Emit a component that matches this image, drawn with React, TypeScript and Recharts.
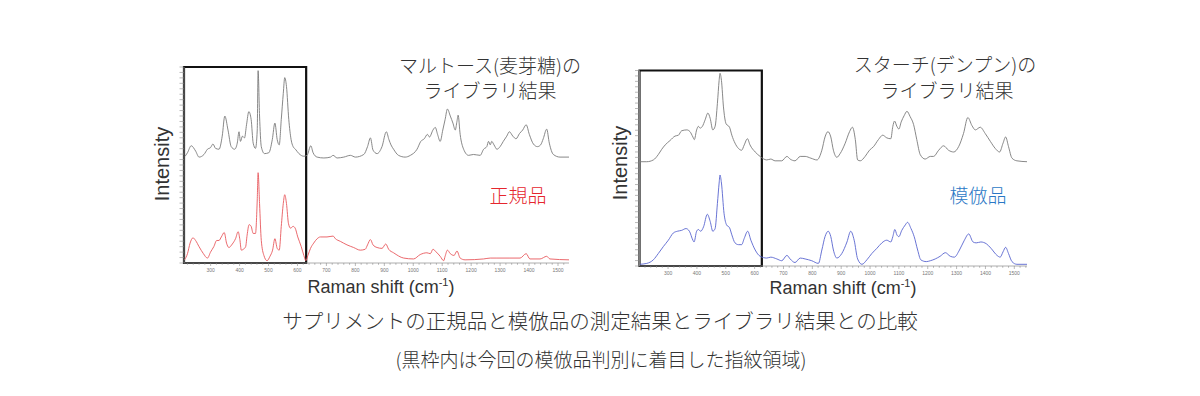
import React from "react";
import { LineChart, Line, XAxis, YAxis, ReferenceArea } from "recharts";

// ---- Left panel: maltose library (grey) and genuine product (red)
const maltoseLibX = [212,220,233,248,260,277,289,300,308,317,329,340,349,360,371,383,392,398,403,410,417,424,432,440,447,455,461,464,469,475,486,501,513,522,530,537,544,551,556,562,570,578,585,593,605,622,633,646,654,668,691,714,723,737,760,783,800,829,842,852,861,875,892,907,916,923,932,949,972,990,1013,1026,1038,1049,1056,1068,1076,1084,1093,1102,1110,1118,1128,1137,1145,1151,1155,1162,1174,1191,1208,1231,1243,1254,1260,1266,1271,1279,1289,1300,1311,1323,1332,1344,1355,1367,1378,1390,1401,1415,1429,1440,1449,1461,1470,1484,1507,1538];
const maltoseLibY = [2,6,14,8,1,4,10,12,16,11,10,25,48,32,13,10,17,30,19,25,23,38,53,44,17,11,32,100,48,13,5,6,21,40,21,15,44,74,92,82,44,21,13,10,5,2,3,14,6,1,0,1,3,0,1,3,1,4,13,23,9,5,13,30,21,15,10,3,1,3,10,19,22,27,24,32,35,27,19,32,44,56,48,40,32,42,49,27,10,3,4,3,10,13,19,15,19,15,10,13,19,25,30,25,22,28,32,38,27,16,13,15,22,33,17,4,1,1];

const genuineX = [210,220,229,239,248,260,275,289,300,311,321,329,337,347,355,363,375,386,395,401,406,413,421,426,433,440,447,455,461,464,469,475,484,495,505,514,522,530,537,544,551,556,562,569,576,585,592,601,613,622,629,636,645,656,668,679,702,723,731,748,771,794,817,834,842,852,861,875,892,905,915,932,967,1001,1024,1047,1059,1068,1079,1093,1105,1110,1118,1128,1141,1151,1162,1179,1243,1266,1289,1334,1369,1390,1403,1438,1461,1472,1538];
const genuineY = [1,8,20,26,23,16,8,3,10,16,23,23,27,32,20,15,19,25,33,24,12,13,16,29,41,39,31,31,69,100,65,23,6,0,5,12,25,14,12,39,65,75,65,42,37,39,37,27,16,6,0,6,14,20,25,27,27,28,25,22,18,15,12,13,18,24,18,15,14,19,13,9,3,2,7,9,8,13,10,5,0,5,12,8,6,11,3,1,2,3,3,3,3,8,2,2,5,2,1];

// ---- Right panel: starch library (grey) and counterfeit product (blue)
const starchLibX = [201,226,249,266,278,290,307,324,336,347,365,376,386,391,399,405,411,419,428,438,446,455,463,471,477,480,485,492,501,513,521,532,544,555,564,575,584,602,619,642,656,671,694,712,723,740,758,775,795,816,833,844,854,864,873,885,896,914,929,939,949,957,966,983,998,1012,1029,1044,1058,1072,1079,1085,1093,1100,1108,1118,1128,1139,1151,1162,1174,1191,1209,1220,1238,1255,1272,1290,1307,1324,1339,1353,1365,1382,1399,1417,1434,1449,1461,1470,1480,1492,1509,1544];
const starchLibY = [0,0,2,8,14,19,24,29,30,35,36,34,28,25,36,40,38,40,47,55,49,36,40,66,92,100,92,62,43,39,30,21,15,13,19,26,19,11,6,2,3,1,1,6,3,1,6,6,4,2,13,28,34,28,13,5,9,21,34,39,25,2,1,6,13,17,25,30,27,26,40,46,40,37,45,52,57,51,42,25,8,3,6,6,13,18,13,11,17,32,50,41,36,39,32,23,15,11,21,28,17,4,1,0];

const counterfeitX = [201,226,249,266,284,301,318,332,347,362,374,386,390,399,405,413,423,436,446,455,463,471,477,480,485,494,503,513,521,532,544,555,564,576,587,602,619,642,656,677,694,712,723,740,758,775,798,821,833,844,855,864,873,885,902,920,933,945,957,972,989,1006,1024,1041,1058,1072,1079,1086,1093,1100,1110,1122,1130,1142,1153,1165,1176,1195,1209,1226,1243,1261,1278,1292,1310,1327,1342,1357,1368,1384,1403,1419,1440,1451,1461,1470,1480,1492,1509,1544];
const counterfeitY = [0,1,5,12,20,27,35,37,38,40,37,27,25,37,39,37,42,56,48,37,40,68,91,100,91,57,44,41,33,24,22,22,29,37,27,16,9,7,8,6,4,10,6,2,7,6,4,1,16,31,37,31,16,7,12,25,37,27,6,0,5,12,18,24,27,25,31,39,33,31,38,44,47,40,31,16,5,3,4,6,9,13,9,8,16,27,34,25,24,25,23,18,10,8,14,19,12,3,0,0];

// ---- Axis tick labels (cm-1)
const majorTicks = [300, 400, 500, 600, 700, 800, 900, 1000, 1100, 1200, 1300, 1400, 1500];
const fingerprintEnd = 630;
const fingerprintEndRight = 625;

const zip = (xs: number[], ys: number[]) => xs.map((x, i) => ({ x, v: ys[i] }));

const minorTicks = (lo: number, hi: number) => {
  const out: number[] = [];
  for (let t = Math.ceil(lo / 20) * 20; t <= hi; t += 20) out.push(t);
  return out;
};
const frameTicks = Array.from({ length: 37 }, (_, i) => i);

const XTick = (props: any) => {
  const { x, y, payload } = props;
  const major = majorTicks.includes(payload.value);
  return (
    <g>
      <line x1={x} x2={x} y1={y} y2={y + (major ? 3 : 1.8)} stroke="#8a8a8a" strokeWidth={0.6} />
      {major && (
        <text x={x} y={y + 9} fontSize={5} textAnchor="middle" fill="#777" fontFamily="Liberation Sans, Arial, sans-serif">
          {payload.value}
        </text>
      )}
    </g>
  );
};

type PanelProps = {
  top: any[];
  bottom: any[];
  domain: [number, number];
  boxEnd: number;
  plot: { left: number; right: number; top: number; bottom: number };
  topDomain: [number, number];
  bottomDomain: [number, number];
  bottomColor: string;
};

const AXH = 20;
const AXW = 6;

const Panel = ({ top, bottom, domain, boxEnd, plot, topDomain, bottomDomain, bottomColor }: PanelProps) => (
  <div style={{ position: "absolute", left: 0, top: 0 }}>
    <LineChart
      width={1200}
      height={396}
      margin={{ left: plot.left - AXW, right: 1200 - plot.right, top: plot.top, bottom: 396 - plot.bottom - AXH }}
    >
      <XAxis
        type="number"
        dataKey="x"
        domain={domain}
        allowDataOverflow
        ticks={minorTicks(domain[0], domain[1])}
        interval={0}
        height={AXH}
        tickSize={0}
        tickMargin={0}
        tickLine={false}
        tick={(p: any) => <XTick {...p} />}
        axisLine={{ stroke: "#9a9a9a", strokeWidth: 0.8 }}
      />
      <YAxis
        yAxisId="frame"
        type="number"
        domain={[0, 36]}
        ticks={frameTicks}
        interval={0}
        width={AXW}
        tickSize={4.5}
        tick={() => <g />}
        tickLine={{ stroke: "#8a8a8a", strokeWidth: 0.6 }}
        axisLine={{ stroke: "#9a9a9a", strokeWidth: 0.8 }}
      />
      <YAxis yAxisId="t" type="number" domain={topDomain} allowDataOverflow hide width={0} />
      <YAxis yAxisId="b" type="number" domain={bottomDomain} allowDataOverflow hide width={0} />
      <Line
        yAxisId="t"
        data={top}
        dataKey="v"
        type="monotone"
        stroke="#7a7a7a"
        strokeWidth={0.9}
        dot={false}
        isAnimationActive={false}
      />
      <Line
        yAxisId="b"
        data={bottom}
        dataKey="v"
        type="monotone"
        stroke={bottomColor}
        strokeWidth={0.9}
        dot={false}
        isAnimationActive={false}
      />
      <ReferenceArea
        yAxisId="frame"
        x1={domain[0]}
        x2={boxEnd}
        y1={0}
        y2={36}
        fill="none"
        fillOpacity={0}
        stroke="#111"
        strokeWidth={2.2}
        ifOverflow="extendDomain"
      />
    </LineChart>
  </div>
);

const jp = "'Noto Sans CJK JP', 'Noto Sans', sans-serif";
const lat = "'Liberation Sans', Arial, Helvetica, sans-serif";

export default function App() {
  return (
    <div style={{ position: "absolute", left: 0, top: 0, width: 1200, height: 396, background: "#fff", overflow: "hidden" }}>
      <Panel
        top={zip(maltoseLibX, maltoseLibY)}
        bottom={zip(genuineX, genuineY)}
        domain={[208, 1538]}
        boxEnd={fingerprintEnd}
        plot={{ left: 184, right: 569, top: 67, bottom: 263 }}
        topDomain={[-120.3, 104.2]}
        bottomDomain={[-2.6, 220.1]}
        bottomColor="#e8585c"
      />
      <Panel
        top={zip(starchLibX, starchLibY)}
        bottom={zip(counterfeitX, counterfeitY)}
        domain={[201, 1544]}
        boxEnd={fingerprintEndRight}
        plot={{ left: 639.5, right: 1027, top: 70.5, bottom: 266 }}
        topDomain={[-118, 103.2]}
        bottomDomain={[-1.9, 217]}
        bottomColor="#5864cf"
      />
      <svg width={1200} height={396} style={{ position: "absolute", left: 0, top: 0, pointerEvents: "none" }}>
        <g fill="#333" fontFamily={jp} fontSize={19} fontWeight={300} textAnchor="middle">
          <text x={490} y={73}>マルトース(麦芽糖)の</text>
          <text x={490} y={98}>ライブラリ結果</text>
          <text x={945} y={72}>スターチ(デンプン)の</text>
          <text x={947} y={98}>ライブラリ結果</text>
          <text x={518} y={203} fill="#e5262e">正規品</text>
          <text x={978} y={203} fill="#2b78c5">模倣品</text>
          <text x={600} y={329} fontSize={20.5}>サプリメントの正規品と模倣品の測定結果とライブラリ結果との比較</text>
          <text x={601} y={367} fontSize={19}>(黒枠内は今回の模倣品判別に着目した指紋領域)</text>
        </g>
        <g fill="#333" fontFamily={lat} fontSize={18} textAnchor="middle">
          <text x={169} y={164} fontSize={20} transform="rotate(-90 169 164)">Intensity</text>
          <text x={627} y={163} fontSize={20} transform="rotate(-90 627 163)">Intensity</text>
          <text x={381} y={293}>
            Raman shift (cm<tspan fontSize={11} dy={-7}>-1</tspan><tspan dy={7}>)</tspan>
          </text>
          <text x={843} y={294}>
            Raman shift (cm<tspan fontSize={11} dy={-7}>-1</tspan><tspan dy={7}>)</tspan>
          </text>
        </g>
      </svg>
    </div>
  );
}
